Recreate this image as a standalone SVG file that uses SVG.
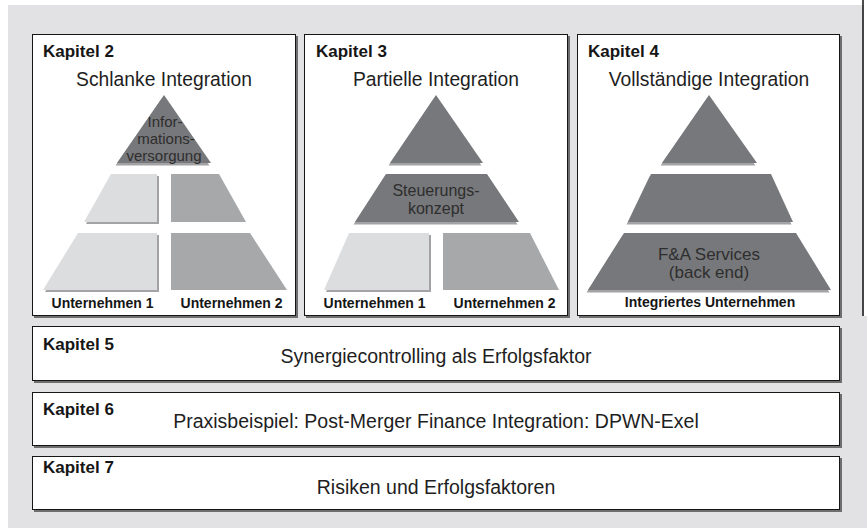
<svg xmlns="http://www.w3.org/2000/svg" width="867" height="528" viewBox="0 0 867 528">
<style>
.bg{fill:#e2e2e4}
.box{fill:#ffffff;stroke:#161616;stroke-width:1}
.boxsh{fill:#6e6e6e}
.dark{fill:#77787b}
.mid{fill:#a7a8aa}
.light{fill:#dcdddf}
.psh{fill:#a3a3a5}
text{font-family:"Liberation Sans",Arial,Helvetica,sans-serif}
.kap{font-size:17px;font-weight:bold;fill:#161616}
.title{font-size:19.3px;fill:#1e1e1e;text-anchor:middle}
.lab{font-size:14px;font-weight:bold;fill:#161616;text-anchor:middle}
.ptxt{fill:#2e2e2e;text-anchor:middle}
.main{font-size:19.5px;fill:#1e1e1e;text-anchor:middle}
</style>
<rect class="bg" x="8" y="5" width="859" height="523"/>
<rect x="864" y="0" width="3" height="316" fill="#ffffff"/>
<line x1="863" y1="0" x2="863" y2="316" stroke="#111" stroke-width="1.5"/>

<g id="connectors"/>

<g id="kapitel2">
  <rect class="boxsh" x="34" y="36" width="264" height="282"/>
  <rect class="box" x="32.5" y="34.5" width="263" height="281"/>
  <text class="kap" x="43" y="57">Kapitel 2</text>
  <text class="title" x="164" y="86">Schlanke Integration</text>
  <g id="k2-top">
    <polygon class="psh" transform="translate(-1.5,2.5)" points="164,95 211,163 117,163"/>
    <polygon class="dark" points="164,95 211,163 117,163"/>
    <text class="ptxt" font-size="15" x="165" y="127">Infor-</text>
    <text class="ptxt" font-size="15" x="166" y="144">mations-</text>
    <text class="ptxt" font-size="15" x="164" y="160.5">versorgung</text>
  </g>
  <g id="k2-mid-1">
    <polygon class="psh" transform="translate(2,2)" points="111,174 157,174 157,222 84,222"/>
    <polygon class="light" points="111,174 157,174 157,222 84,222"/>
  </g>
  <g id="k2-mid-2">
    <polygon class="mid" points="171,174 219,174 246,222 171,222"/>
  </g>
  <g id="k2-bot-1">
    <polygon class="psh" transform="translate(2,2)" points="78,233 157,233 157,290 43,290"/>
    <polygon class="light" points="78,233 157,233 157,290 43,290"/>
  </g>
  <g id="k2-bot-2">
    <polygon class="mid" points="171,233 250,233 287,290 171,290"/>
  </g>
  <text class="lab" x="102.5" y="308">Unternehmen 1</text>
  <text class="lab" x="231.5" y="308">Unternehmen 2</text>
</g>

<g id="kapitel3">
  <rect class="boxsh" x="306" y="36" width="264" height="282"/>
  <rect class="box" x="304.5" y="34.5" width="263" height="281"/>
  <text class="kap" x="316" y="57">Kapitel 3</text>
  <text class="title" x="436" y="86">Partielle Integration</text>
  <g id="k3-top">
    <polygon class="psh" transform="translate(-1.5,2.5)" points="436,95 483,163 390,163"/>
    <polygon class="dark" points="436,95 483,163 390,163"/>
  </g>
  <g id="k3-mid">
    <polygon class="psh" transform="translate(-1.5,2.5)" points="386,174 487,174 519,222 355,222"/>
    <polygon class="dark" points="386,174 487,174 519,222 355,222"/>
    <text class="ptxt" font-size="16" x="436" y="196">Steuerungs-</text>
    <text class="ptxt" font-size="16" x="436" y="214">konzept</text>
  </g>
  <g id="k3-bot-1">
    <polygon class="psh" transform="translate(2,2)" points="349,233 429,233 429,290 324,290"/>
    <polygon class="light" points="349,233 429,233 429,290 324,290"/>
  </g>
  <g id="k3-bot-2">
    <polygon class="mid" points="443,233 530,233 559,290 443,290"/>
  </g>
  <text class="lab" x="374.5" y="308">Unternehmen 1</text>
  <text class="lab" x="504.5" y="308">Unternehmen 2</text>
</g>

<g id="kapitel4">
  <rect class="boxsh" x="579" y="36" width="263" height="282"/>
  <rect class="box" x="577.5" y="34.5" width="262" height="281"/>
  <text class="kap" x="588" y="57">Kapitel 4</text>
  <text class="title" x="709" y="86">Vollständige Integration</text>
  <g id="k4-top">
    <polygon class="psh" transform="translate(-1.5,2.5)" points="709,95 757,163 662,163"/>
    <polygon class="dark" points="709,95 757,163 662,163"/>
  </g>
  <g id="k4-mid">
    <polygon class="psh" transform="translate(-1.5,2.5)" points="651,174 771,174 793,222 628,222"/>
    <polygon class="dark" points="651,174 771,174 793,222 628,222"/>
  </g>
  <g id="k4-bot">
    <polygon class="psh" transform="translate(-1.5,2.5)" points="624,233 796,233 831,290 588,290"/>
    <polygon class="dark" points="624,233 796,233 831,290 588,290"/>
    <text class="ptxt" font-size="17" x="709" y="259.5">F&amp;A Services</text>
    <text class="ptxt" font-size="17" x="709" y="277.5">(back end)</text>
  </g>
  <text class="lab" x="710" y="307">Integriertes Unternehmen</text>
</g>

<g id="kapitel5">
  <rect class="boxsh" x="34" y="328" width="808" height="55"/>
  <rect class="box" x="32.5" y="326.5" width="807" height="54"/>
  <text class="kap" x="43" y="350">Kapitel 5</text>
  <text class="main" x="436" y="362.5">Synergiecontrolling als Erfolgsfaktor</text>
</g>

<g id="kapitel6">
  <rect class="boxsh" x="34" y="394" width="808" height="54"/>
  <rect class="box" x="32.5" y="392.5" width="807" height="53"/>
  <text class="kap" x="43" y="415">Kapitel 6</text>
  <text class="main" x="436" y="427.5">Praxisbeispiel: Post-Merger Finance Integration: DPWN-Exel</text>
</g>

<g id="kapitel7">
  <rect class="boxsh" x="34" y="458" width="808" height="54"/>
  <rect class="box" x="32.5" y="456.5" width="807" height="53"/>
  <text class="kap" x="43" y="473">Kapitel 7</text>
  <text class="main" x="436" y="493.5">Risiken und Erfolgsfaktoren</text>
</g>
</svg>
